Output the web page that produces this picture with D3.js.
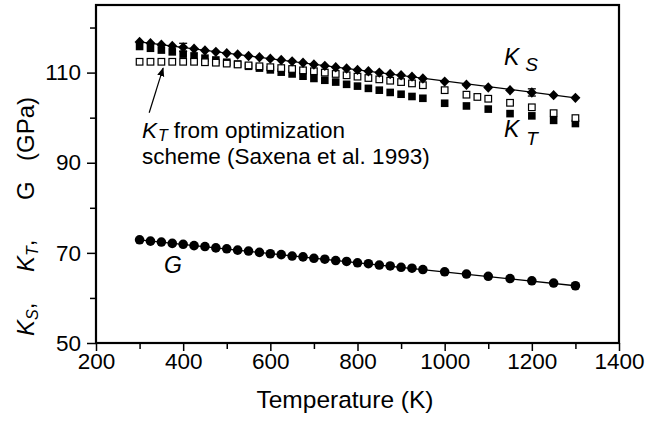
<!DOCTYPE html>
<html>
<head>
<meta charset="utf-8">
<script src="https://cdn.jsdelivr.net/npm/d3@7"></script>
<style>
  body { margin: 0; background: #fff; }
  svg text { font-family: "Liberation Sans", Arial, sans-serif; fill: #000; }
</style>
</head>
<body>
<svg width="648" height="425"></svg>
<script>
// temperatures (K) shared by K_S, K_T and G
var temps = [300, 325, 350, 375, 400, 425, 450, 475, 500, 525, 550, 575, 600, 625, 650,
    675, 700, 725, 750, 775, 800, 825, 850, 875, 900, 925, 950,
    1000, 1050, 1100, 1150, 1200, 1250, 1300];

var ksVals = [116.8, 116.5, 116.2, 115.9, 115.6, 115.3, 114.9, 114.6, 114.3, 114.0, 113.7,
    113.4, 113.1, 112.8, 112.5, 112.2, 111.8, 111.5, 111.2, 110.9, 110.6, 110.3, 110.0,
    109.7, 109.4, 109.1, 108.7, 108.0, 107.3, 106.7, 106.1, 105.6, 105.0, 104.4];

var ktVals = [115.8, 115.4, 115.0, 114.6, 114.1, 113.7, 113.2, 112.8, 112.3, 111.9, 111.4,
    111.0, 110.6, 110.1, 109.7, 109.2, 108.7, 108.3, 107.9, 107.4, 107.0, 106.5, 106.1,
    105.6, 105.2, 104.7, 104.3, 103.2, 102.6, 101.9, 100.9, 100.4, 99.4, 98.7];

var gVals = [72.9, 72.6, 72.4, 72.1, 71.9, 71.6, 71.4, 71.1, 70.9, 70.6, 70.4, 70.1, 69.8,
    69.6, 69.3, 69.1, 68.8, 68.6, 68.3, 68.1, 67.8, 67.6, 67.3, 67.1, 66.8, 66.6, 66.3,
    65.8, 65.3, 64.8, 64.3, 63.8, 63.3, 62.7];

// K_T from optimization scheme (open squares)
var optTemps = [300, 325, 350, 375, 400, 425, 450, 475, 500, 525, 550, 575, 600, 625, 650,
    675, 700, 725, 750, 775, 800, 825, 850, 875, 900, 925, 950,
    1000, 1050, 1075, 1100, 1150, 1200, 1250, 1300];
var optVals = [112.4, 112.4, 112.4, 112.4, 112.4, 112.4, 112.3, 112.2, 112.0, 111.8, 111.6,
    111.4, 111.2, 111.0, 110.8, 110.5, 110.3, 110.0, 109.7, 109.4, 109.1, 108.8, 108.5,
    108.2, 107.9, 107.6, 107.2, 106.1, 105.1, 104.6, 104.2, 103.3, 102.3, 101.0, 99.9];

// error bars on K_S
var errTemps = [400, 1200];
var errKs = [115.6, 105.6];
var errSize = [0.9, 0.8];

// fitted lines
var fitTemps = [300, 1300];
var ksFit = [116.8, 104.4];
var gFit = [72.9, 62.7];

var xMajor = [200, 400, 600, 800, 1000, 1200, 1400];
var xMinor = [300, 500, 700, 900, 1100, 1300];
var yMajor = [50, 70, 90, 110];
var yMinor = [60, 80, 100, 120];

var svg = d3.select("svg");
var plotL = 96, plotR = 619, plotT = 5, plotB = 343;

var x = d3.scaleLinear().domain([200, 1400]).range([plotL, plotR]);
var y = d3.scaleLinear().domain([50, 125]).range([plotB, plotT]);

// axes
function styleAxis(g) {
    g.select(".domain").remove();
    g.selectAll("line").attr("stroke", "#000").attr("stroke-width", 1.5);
    g.selectAll("text").style("font-size", "22.5px").attr("fill", "#000");
}

svg.append("g")
    .attr("transform", "translate(0," + plotB + ")")
    .call(d3.axisBottom(x).tickValues(xMajor).tickSize(8).tickPadding(2).tickFormat(d3.format("d")))
    .call(styleAxis);
svg.append("g")
    .attr("transform", "translate(0," + plotB + ")")
    .call(d3.axisBottom(x).tickValues(xMinor).tickSize(6).tickFormat(""))
    .call(styleAxis);
svg.append("g")
    .attr("transform", "translate(" + plotL + ",0)")
    .call(d3.axisLeft(y).tickValues(yMajor).tickSize(9).tickPadding(6))
    .call(styleAxis);
svg.append("g")
    .attr("transform", "translate(" + plotL + ",0)")
    .call(d3.axisLeft(y).tickValues(yMinor).tickSize(6).tickFormat(""))
    .call(styleAxis);

// frame
svg.append("rect")
    .attr("x", plotL).attr("y", plotT)
    .attr("width", plotR - plotL).attr("height", plotB - plotT)
    .attr("fill", "none").attr("stroke", "#000").attr("stroke-width", 2.2);

var line = d3.line()
    .x(function (d) { return x(d[0]); })
    .y(function (d) { return y(d[1]); });

svg.append("path")
    .datum(fitTemps.map(function (t, i) { return [t, ksFit[i]]; }))
    .attr("d", line).attr("fill", "none").attr("stroke", "#000").attr("stroke-width", 1.3);
svg.append("path")
    .datum(fitTemps.map(function (t, i) { return [t, gFit[i]]; }))
    .attr("d", line).attr("fill", "none").attr("stroke", "#000").attr("stroke-width", 1.3);

// K_T filled squares
svg.append("g").selectAll("rect")
    .data(temps.map(function (t, i) { return [t, ktVals[i]]; }))
    .enter().append("rect")
    .attr("x", function (d) { return x(d[0]) - 3.8; })
    .attr("y", function (d) { return y(d[1]) - 3.8; })
    .attr("width", 7.6).attr("height", 7.6)
    .attr("fill", "#000");

// K_T optimization open squares
svg.append("g").selectAll("rect")
    .data(optTemps.map(function (t, i) { return [t, optVals[i]]; }))
    .enter().append("rect")
    .attr("x", function (d) { return x(d[0]) - 3.3; })
    .attr("y", function (d) { return y(d[1]) - 3.3; })
    .attr("width", 6.6).attr("height", 6.6)
    .attr("fill", "#fff").attr("stroke", "#000").attr("stroke-width", 1.2);

// error bars
var eb = svg.append("g").selectAll("g")
    .data(errTemps.map(function (t, i) { return [t, errKs[i], errSize[i]]; }))
    .enter().append("g").attr("stroke", "#000").attr("stroke-width", 1.3);
eb.append("line")
    .attr("x1", function (d) { return x(d[0]); }).attr("x2", function (d) { return x(d[0]); })
    .attr("y1", function (d) { return y(d[1] + d[2]); }).attr("y2", function (d) { return y(d[1] - d[2]); });
eb.append("line")
    .attr("x1", function (d) { return x(d[0]) - 4; }).attr("x2", function (d) { return x(d[0]) + 4; })
    .attr("y1", function (d) { return y(d[1] + d[2]); }).attr("y2", function (d) { return y(d[1] + d[2]); });
eb.append("line")
    .attr("x1", function (d) { return x(d[0]) - 4; }).attr("x2", function (d) { return x(d[0]) + 4; })
    .attr("y1", function (d) { return y(d[1] - d[2]); }).attr("y2", function (d) { return y(d[1] - d[2]); });

// K_S diamonds
svg.append("g").selectAll("path")
    .data(temps.map(function (t, i) { return [t, ksVals[i]]; }))
    .enter().append("path")
    .attr("d", "M0,-5.2L5,0L0,5.2L-5,0Z")
    .attr("transform", function (d) { return "translate(" + x(d[0]) + "," + y(d[1]) + ")"; })
    .attr("fill", "#000");

// G circles
svg.append("g").selectAll("circle")
    .data(temps.map(function (t, i) { return [t, gVals[i]]; }))
    .enter().append("circle")
    .attr("cx", function (d) { return x(d[0]); })
    .attr("cy", function (d) { return y(d[1]); })
    .attr("r", 4.8)
    .attr("fill", "#000");

// labels
function label(px, py, main, sub, size, subSize, subDx, subDy) {
    var t = svg.append("text").attr("x", px).attr("y", py).style("font-size", size + "px");
    t.append("tspan").style("font-style", "italic").text(main);
    if (sub) {
        t.append("tspan").style("font-style", "italic").style("font-size", subSize + "px")
            .attr("dx", subDx).attr("dy", subDy).text(sub);
    }
    return t;
}
label(504, 65, "K", "S", 23, 19, 6, 6);
label(504, 137, "K", "T", 23, 19, 7, 8);
label(164, 273, "G", null, 23);

var ann = label(142, 138, "K", "T", 22.5, 16, 1, 3);
ann.append("tspan").attr("dy", -3).attr("dx", 6).text("from optimization");
svg.append("text").attr("x", 142).attr("y", 164).style("font-size", "22.5px")
    .text("scheme (Saxena et al. 1993)");

// arrow
svg.append("defs").append("marker")
    .attr("id", "ah").attr("viewBox", "0 0 10 10").attr("refX", 9).attr("refY", 5)
    .attr("markerWidth", 9).attr("markerHeight", 9).attr("orient", "auto")
    .attr("markerUnits", "userSpaceOnUse")
    .append("path").attr("d", "M0,1L10,5L0,9Z").attr("fill", "#000");
svg.append("line")
    .attr("x1", x(322)).attr("y1", y(101.1))
    .attr("x2", x(354)).attr("y2", y(111.0))
    .attr("stroke", "#000").attr("stroke-width", 1.2)
    .attr("marker-end", "url(#ah)");

// axis titles
svg.append("text").attr("x", 345).attr("y", 408).attr("text-anchor", "middle")
    .style("font-size", "24.5px").text("Temperature (K)");

// rotated y title, pieces spread like the original
var yt = svg.append("text").attr("transform", "translate(34,336) rotate(-90)")
    .style("font-size", "24px");
yt.append("tspan").attr("x", 0).style("font-style", "italic").text("K");
yt.append("tspan").style("font-style", "italic").style("font-size", "16px").attr("dy", 4).text("S");
yt.append("tspan").attr("dy", -4).text(",");
yt.append("tspan").attr("x", 64).style("font-style", "italic").text("K");
yt.append("tspan").style("font-style", "italic").style("font-size", "16px").attr("dy", 4).text("T");
yt.append("tspan").attr("dy", -4).text(",");
yt.append("tspan").attr("x", 136).text("G");
yt.append("tspan").attr("x", 175).text("(GPa)");
</script>
</body>
</html>
